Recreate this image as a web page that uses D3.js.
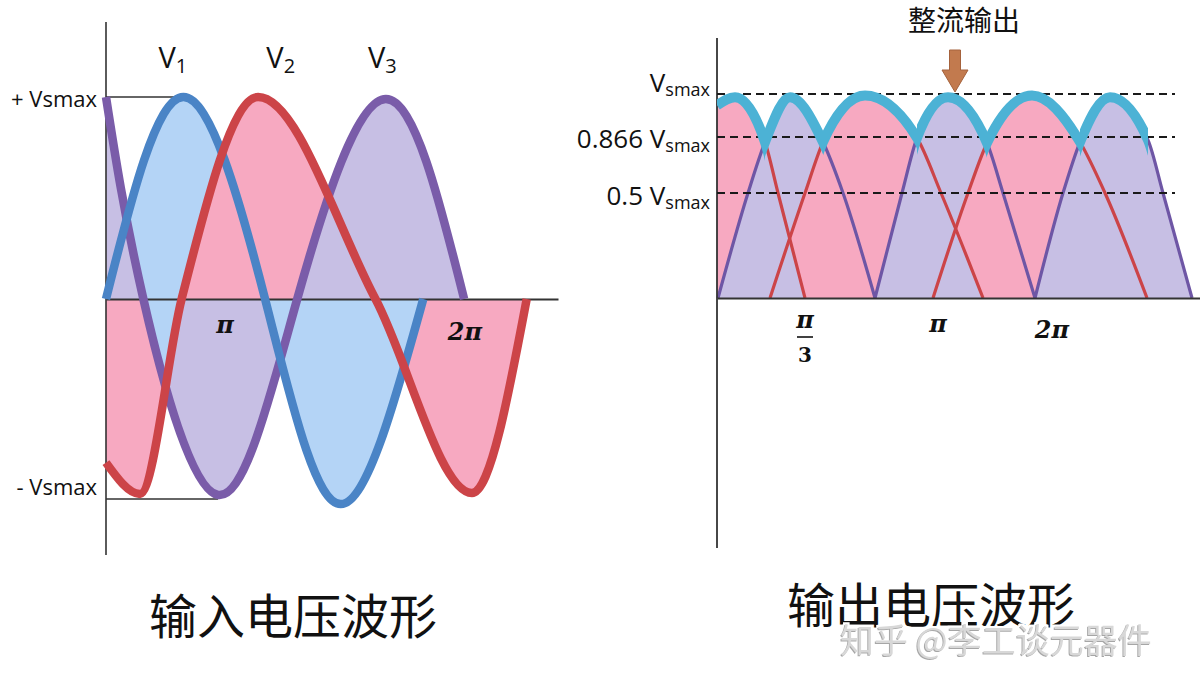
<!DOCTYPE html>
<html><head><meta charset="utf-8">
<script src="https://cdnjs.cloudflare.com/ajax/libs/d3/7.8.5/d3.min.js"></script>
<style>body{margin:0;background:#fff}svg{display:block}</style>
</head><body>
<svg id="c" width="1200" height="686"></svg>
<script>
// ================= DATA =================
// Input waves: phase (deg-like units) vs value in units of Vsmax
const v1Points = [[0,0],[89,1.0],[183,0],[270,-1.015],[365,0]];
const v2Points = [[0,-0.81],[39,-0.965],[87,0],[175,1.0],[310,0],[421,-0.96],[484,0]];
const v3Points = [[0,1.0],[43,0],[129,-0.97],[220,0],[322,0.99],[412,0]];
const inputSeries = ["V1","V2","V3"];
const inputSeriesLabelX = [77, 201, 318];
const inputTicks = [137, 413];
const inputTickLabels = ["π","2π"];
const inputLevels = [1, -0.99];
const inputLevelLabels = ["+ Vsmax","- Vsmax"];
const inputLevelEnds = [89, 129];

// Rectified output: six half-wave humps (t units, value in Vsmax)
const hump1 = [[0,0.965],[18,0.99],[48,0.833],[61,0.5],[88,0]];
const hump2 = [[1,0],[31,0.5],[48,0.833],[73,0.99],[106,0.833],[126,0.5],[158,0]];
const hump3 = [[53,0],[88,0.5],[106,0.833],[148,0.995],[200,0.86],[224,0.5],[266,0]];
const hump4 = [[158,0],[185,0.5],[200,0.86],[231,0.99],[270,0.827],[286,0.5],[318,0]];
const hump5 = [[216,0],[251,0.5],[270,0.827],[315,0.995],[363,0.833],[388,0.5],[430,0]];
const hump6 = [[318,0],[346,0.5],[363,0.833],[393,0.99],[431,0.846],[446,0.5],[475,0]];
const humpPhase = ["a","b","a","b","a","b"];
const envelopeCusps = [0,48,106,200,270,363,431];
const outputLevels = [1, 0.866, 0.5];
const outputLevelNums = ["", "0.866 ", "0.5 "];
const outputTicks = [88, 221, 335];
const outputTickLabels = ["π/3","π","2π"];
const arrowTarget = [238, 1];

// ================= STYLE / LAYOUT =================
const fillCol = {V1:"#b4d4f6", V2:"#f7a9c1", V3:"#c7bfe4"};
const strokeCol = {V1:"#4a84c6", V2:"#cc4448", V3:"#7a5ca9"};
const curveOf = {V1:d3.curveNatural, V2:d3.curveMonotoneX, V3:d3.curveNatural};
const humpFill = {a:"#f7a9c1", b:"#c7bfe4"};
const humpLine = {a:"#cc4448", b:"#6e56a5"};
const cyan = "#4cb2d5";
const latin = "'Open Sans','Noto Sans',sans-serif";
const cjk = "'Noto Sans CJK SC','Noto Sans',sans-serif";
const piFont = "'DejaVu Serif',serif";

const svg = d3.select("#c");
const defs = svg.append("defs");

// ================= LEFT CHART =================
const xL = d3.scaleLinear().domain([0,520]).range([106,558]);
const yL = d3.scaleLinear().domain([-1,1]).range([501,97]);
const lineL = k => d3.line().x(d=>xL(d[0])).y(d=>yL(d[1])).curve(curveOf[k]);
const areaL = k => d3.area().x(d=>xL(d[0])).y0(yL(0)).y1(d=>yL(d[1])).curve(curveOf[k]);
const inputData = {V1:v1Points, V2:v2Points, V3:v3Points};

defs.append("clipPath").attr("id","posL").append("rect")
  .attr("x",0).attr("y",0).attr("width",700).attr("height",yL(0));
defs.append("clipPath").attr("id","negL").append("rect")
  .attr("x",0).attr("y",yL(0)).attr("width",700).attr("height",400);
defs.append("clipPath").attr("id","v3area").append("path").attr("d",areaL("V3")(v3Points));

const gPos = svg.append("g").attr("clip-path","url(#posL)");
["V1","V2","V3"].forEach(k=>gPos.append("path").attr("d",areaL(k)(inputData[k])).attr("fill",fillCol[k]));
const gNeg = svg.append("g").attr("clip-path","url(#negL)");
["V2","V3","V1"].forEach(k=>gNeg.append("path").attr("d",areaL(k)(inputData[k])).attr("fill",fillCol[k]));
gNeg.append("path").attr("d",areaL("V2")(v2Points)).attr("fill",fillCol.V1).attr("clip-path","url(#v3area)");

// axes
svg.append("line").attr("x1",xL(0)).attr("x2",xL(0)).attr("y1",22).attr("y2",555)
  .attr("stroke","#333").attr("stroke-width",1.6);
svg.append("g").attr("transform",`translate(0,${yL(0)})`)
  .call(d3.axisBottom(xL).tickValues([]).tickSizeOuter(0))
  .call(g=>g.select(".domain").attr("stroke","#333").attr("stroke-width",2));

// level markers
inputLevels.forEach((v,i)=>{
  svg.append("line").attr("x1",xL(0)).attr("x2",xL(inputLevelEnds[i]))
    .attr("y1",yL(v)).attr("y2",yL(v)).attr("stroke","#333").attr("stroke-width",1.6);
  svg.append("text").attr("x",97).attr("y",yL(v)+(i===0?10:-4))
    .attr("text-anchor","end").attr("font-family",latin).attr("font-size",22).attr("fill","#111")
    .text(inputLevelLabels[i]);
});

// strokes
["V3","V1","V2"].forEach(k=>svg.append("path").attr("d",lineL(k)(inputData[k]))
  .attr("fill","none").attr("stroke",strokeCol[k]).attr("stroke-width",8.5));

// series labels
inputSeries.forEach((s,i)=>{
  const t = svg.append("text").attr("x",xL(inputSeriesLabelX[i])).attr("y",68)
    .attr("text-anchor","middle").attr("font-family",latin).attr("fill","#111");
  t.append("tspan").attr("font-size",29).text(s[0]);
  t.append("tspan").attr("font-size",20).attr("dy",5).text(s.slice(1));
});

// ticks
const inTickDy = [34, 41];
inputTicks.forEach((v,i)=>{
  svg.append("text").attr("x",xL(v)).attr("y",yL(0)+inTickDy[i]).attr("text-anchor","middle")
    .attr("font-family",piFont).attr("font-weight","bold").attr("font-style","italic")
    .attr("font-size",24).attr("fill","#111").text(inputTickLabels[i]);
});

// ================= RIGHT CHART =================
const xR = d3.scaleLinear().domain([0,483]).range([717,1200]);
const yR = d3.scaleLinear().domain([0,0.5,0.866,1]).range([298,193,137,94]);
const lineR = d3.line().x(d=>xR(d[0])).y(d=>yR(d[1])).curve(d3.curveMonotoneX);
const areaR = d3.area().x(d=>xR(d[0])).y0(yR(0)).y1(d=>yR(d[1])).curve(d3.curveMonotoneX);
const humps = [hump1,hump2,hump3,hump4,hump5,hump6];

humps.forEach((h,i)=>{
  defs.append("clipPath").attr("id","hump"+i).append("path").attr("d",areaR(h));
  svg.append("path").attr("d",areaR(h)).attr("fill",humpFill[humpPhase[i]]);
});
// where two same-phase humps overlap, the picture shows the other phase's colour
humps.forEach((h,i)=>{
  if (i>=2 && humpPhase[i]===humpPhase[i-2])
    svg.append("path").attr("d",areaR(h)).attr("clip-path",`url(#hump${i-2})`)
      .attr("fill",humpFill[humpPhase[i-1]]);
});
humps.forEach((h,i)=>svg.append("path").attr("d",lineR(h)).attr("fill","none")
  .attr("stroke",humpLine[humpPhase[i]]).attr("stroke-width",3.2));

// axes
svg.append("line").attr("x1",xR(0)).attr("x2",xR(0)).attr("y1",38).attr("y2",548)
  .attr("stroke","#333").attr("stroke-width",1.8);
svg.append("g").attr("transform",`translate(0,${yR(0)})`)
  .call(d3.axisBottom(xR).tickValues([]).tickSizeOuter(0))
  .call(g=>g.select(".domain").attr("stroke","#333").attr("stroke-width",2));

// dashed levels
outputLevels.forEach(v=>svg.append("line").attr("x1",xR(0)).attr("x2",xR(458))
  .attr("y1",yR(v)).attr("y2",yR(v)).attr("stroke","#1a1a1a").attr("stroke-width",1.8)
  .attr("stroke-dasharray","8,5"));

// cyan envelope (rectified output)
humps.forEach((h,i)=>{
  const id = "env"+i;
  defs.append("clipPath").attr("id",id).append("rect")
    .attr("x",xR(envelopeCusps[i])).attr("y",0)
    .attr("width",xR(envelopeCusps[i+1])-xR(envelopeCusps[i])).attr("height",yR(0));
  svg.append("path").attr("d",lineR(h)).attr("fill","none").attr("stroke",cyan)
    .attr("stroke-width",10).attr("clip-path",`url(#${id})`);
});

// level labels
const outLabelDy = [-2, 11, 12];
outputLevels.forEach((v,i)=>{
  const t = svg.append("text").attr("x",710).attr("y",yR(v)+outLabelDy[i])
    .attr("text-anchor","end").attr("font-family",latin).attr("fill","#111");
  t.append("tspan").attr("font-size",26).text(outputLevelNums[i]+"V");
  t.append("tspan").attr("font-size",18).attr("dy",4).text("smax");
});

// ticks
const outTickDy = [30, 34, 40];
outputTicks.forEach((v,i)=>{
  const lab = outputTickLabels[i];
  const x = xR(v), y = yR(0)+outTickDy[i];
  const tx = (s,yy,fs)=>svg.append("text").attr("x",x).attr("y",yy).attr("text-anchor","middle")
    .attr("font-family",piFont).attr("font-weight","bold").attr("font-style","italic")
    .attr("font-size",fs).attr("fill","#111").text(s);
  if (lab.includes("/")) {
    const [num,den] = lab.split("/");
    tx(num,y,24);
    svg.append("line").attr("x1",x-8).attr("x2",x+8).attr("y1",y+9).attr("y2",y+9)
      .attr("stroke","#111").attr("stroke-width",1.6);
    tx(den,y+34,20).attr("font-style","normal");
  } else tx(lab,y,24);
});

// arrow
const ax = xR(arrowTarget[0]), ay = yR(arrowTarget[1]) - 2;
svg.append("path")
  .attr("d",`M${ax-5.5},${ay-42}h11v20h7.5L${ax},${ay}L${ax-13},${ay-22}h7.5Z`)
  .attr("fill","#c27a4e").attr("stroke","#a5623c").attr("stroke-width",1);

// titles
svg.append("text").attr("x",964).attr("y",31).attr("text-anchor","middle")
  .attr("font-family",cjk).attr("font-size",28).attr("fill","#111").text("整流输出");
svg.append("text").attr("x",293).attr("y",634).attr("text-anchor","middle")
  .attr("font-family",cjk).attr("font-size",48).attr("fill","#111").text("输入电压波形");
svg.append("text").attr("x",931).attr("y",623).attr("text-anchor","middle")
  .attr("font-family",cjk).attr("font-size",48).attr("fill","#111").text("输出电压波形");

// watermark: one text, halo + embossed shadow via filter
const f = defs.append("filter").attr("id","wmfx").attr("x","-5%").attr("y","-20%").attr("width","110%").attr("height","140%");
f.append("feMorphology").attr("in","SourceAlpha").attr("operator","dilate").attr("radius",2).attr("result","dil");
f.append("feFlood").attr("flood-color","#ffffff").attr("result","white");
f.append("feComposite").attr("in","white").attr("in2","dil").attr("operator","in").attr("result","halo");
f.append("feOffset").attr("in","SourceAlpha").attr("dx",-1.2).attr("dy",1.2).attr("result","off");
f.append("feFlood").attr("flood-color","#a6a6a6").attr("result","grey");
f.append("feComposite").attr("in","grey").attr("in2","off").attr("operator","in").attr("result","shadow");
const fm = f.append("feMerge");
fm.append("feMergeNode").attr("in","halo");
fm.append("feMergeNode").attr("in","shadow");
fm.append("feMergeNode").attr("in","SourceGraphic");
svg.append("text").attr("x",840).attr("y",653).attr("font-family",cjk).attr("font-size",34)
  .attr("fill","#d8d8d8").attr("filter","url(#wmfx)").text("知乎 @李工谈元器件");
</script>
</body></html>
